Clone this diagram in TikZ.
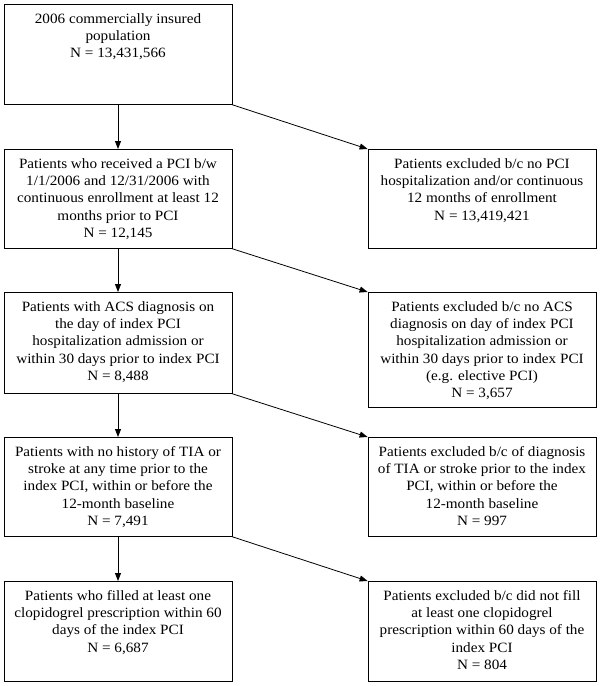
\documentclass[tikz,border=0pt]{standalone}
\usepackage{fontspec}
\setmainfont{Liberation Serif}[FakeStretch=1.07]
\usetikzlibrary{arrows.meta}
\newcommand{\stagetext}[2]{\parbox[b][#1][t]{228pt}{\centering\rule{0pt}{19pt}#2}}
\tikzset{
	stage/.style={draw, line width=0.8pt, inner sep=0pt, anchor=north, font=\fontsize{14.2}{17.2}\selectfont},
	flow/.style={line width=0.8pt, -{Triangle[length=8pt,width=6pt]}}
}
\begin{document}
\begin{tikzpicture}[x=1pt, y=-1pt]
			%%%%% START %%%%%
			\useasboundingbox (0, 0) rectangle (600, 686);
			
			% left column
			\node[stage] (pop) at (118, 4) {\stagetext{100pt}{2006 commercially insured\\population\\N = 13,431,566}};
			\node[stage] (pci) at (118, 149) {\stagetext{99pt}{Patients who received a PCI b/w\\1/1/2006 and 12/31/2006 with\\continuous enrollment at least 12\\months prior to PCI\\N = 12,145}};
			\node[stage] (acs) at (118, 292) {\stagetext{101pt}{Patients with ACS diagnosis on\\the day of index PCI\\hospitalization admission or\\within 30 days prior to index PCI\\N = 8,488}};
			\node[stage] (tia) at (118, 437) {\stagetext{99pt}{Patients with no history of TIA or\\stroke at any time prior to the\\index PCI, within or before the\\12-month baseline\\N = 7,491}};
			\node[stage] (clop) at (118, 581) {\stagetext{100pt}{Patients who filled at least one\\clopidogrel prescription within 60\\days of the index PCI\\N = 6,687}};
			
			% right column
			\node[stage] (exclpci) at (482, 149) {\stagetext{99pt}{Patients excluded b/c no PCI\\hospitalization and/or continuous\\12 months of enrollment\\N = 13,419,421}};
			\node[stage] (exclacs) at (482, 292) {\stagetext{115pt}{Patients excluded b/c no ACS\\diagnosis on day of index PCI\\hospitalization admission or\\within 30 days prior to index PCI\\(e.g. elective PCI)\\N = 3,657}};
			\node[stage] (excltia) at (482, 437) {\stagetext{99pt}{Patients excluded b/c of diagnosis\\of TIA or stroke prior to the index\\PCI, within or before the\\12-month baseline\\N = 997}};
			\node[stage] (exclclop) at (482, 581) {\stagetext{100pt}{Patients excluded b/c did not fill\\at least one clopidogrel\\prescription within 60 days of the\\index PCI\\N = 804}};
			
			% arrows
			\draw[flow] (pop.south) -- (pci.north);
			\draw[flow] (pop.south east) -- (exclpci.north west);
			\draw[flow] (pci.south) -- (acs.north);
			\draw[flow] (pci.south east) -- (exclacs.north west);
			\draw[flow] (acs.south) -- (tia.north);
			\draw[flow] (acs.south east) -- (excltia.north west);
			\draw[flow] (tia.south) -- (clop.north);
			\draw[flow] (tia.south east) -- (exclclop.north west);
			
			%%%%% END %%%%%
\end{tikzpicture}
\end{document}
